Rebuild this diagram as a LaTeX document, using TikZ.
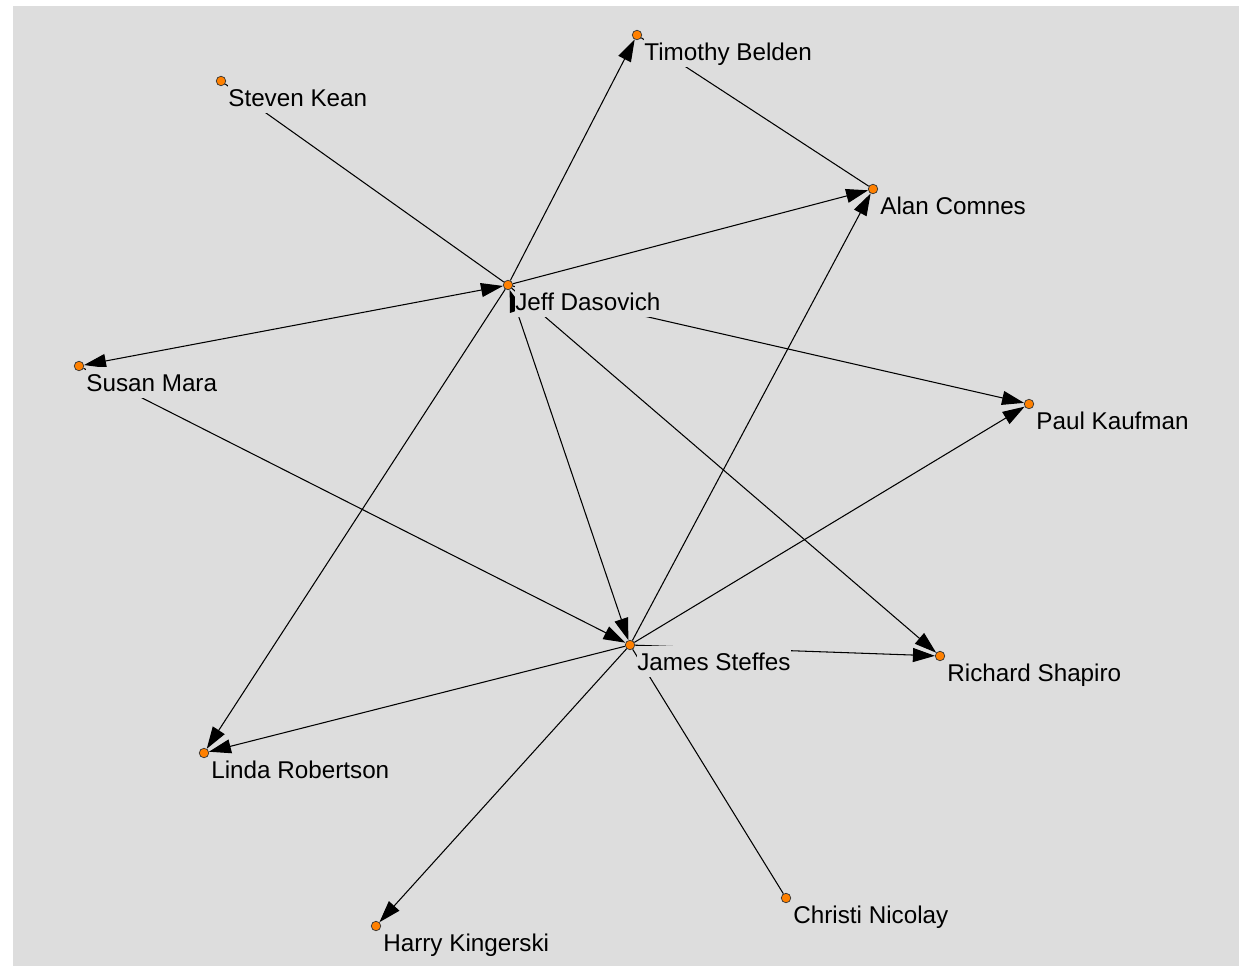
\documentclass[tikz,border=0pt]{standalone}
\usepackage{fontspec}
\setmainfont{Liberation Sans}
\usetikzlibrary{arrows.meta, positioning}
\definecolor{panelgray}{RGB}{221, 221, 221}
\definecolor{dotorange}{RGB}{255, 128, 0}

\begin{document}
\begin{tikzpicture}[
  x=0.02cm, y=-0.02cm,
  person/.style={circle, draw=black!80, fill=dotorange, line width=0.4pt,
                 minimum size=0.19cm, inner sep=0pt},
  namebox/.style={fill=panelgray, inner sep=0pt, text height=0.49cm,
                  text depth=0.13cm, font=\fontsize{13.8}{16}\selectfont},
  link/.style={line width=0.6pt},
  arrow/.style={link, -{Triangle[length=0.44cm, width=0.28cm]}},
  twoway/.style={link, {Triangle[length=0.44cm, width=0.28cm]}-{Triangle[length=0.44cm, width=0.28cm]}}
]
\useasboundingbox (0,0) rectangle (1239,966);
\fill[white] (0,0) rectangle (1239,966);
\fill[panelgray] (13,6) rectangle (1239,966);

% people
\node[person] (timothy) at (637,35)  {};
\node[person] (steven)  at (221,81)  {};
\node[person] (alan)    at (873,189) {};
\node[person] (jeff)    at (508,285) {};
\node[person] (susan)   at (79,366)  {};
\node[person] (paul)    at (1029,404) {};
\node[person] (james)   at (630,645) {};
\node[person] (richard) at (940,656) {};
\node[person] (linda)   at (204,753) {};
\node[person] (christi) at (786,898) {};
\node[person] (harry)   at (376,926) {};

% links
\draw[link] (steven) -- (jeff);
\draw[link] (timothy) -- (alan);
\draw[link] (christi) -- (james);
\draw[arrow] (jeff) -- (timothy);
\draw[arrow] (jeff) -- (alan);
\draw[twoway] (susan) -- (jeff);
\draw[arrow] (jeff) -- (paul);
\draw[twoway] (jeff) -- (james);
\draw[arrow] (jeff) -- (richard);
\draw[arrow] (jeff) -- (linda);
\draw[arrow] (susan) -- (james);
\draw[arrow] (james) -- (alan);
\draw[arrow] (james) -- (paul);
\draw[arrow] (james) -- (richard);
\draw[arrow] (james) -- (linda);
\draw[arrow] (james) -- (harry);

% names
\node[namebox, below right=0.01cm and 0.14cm of timothy.center] (timothy-l) {Timothy Belden};
\node[namebox, below right=0.01cm and 0.14cm of steven.center]  (steven-l)  {Steven Kean};
\node[namebox, below right=0.01cm and 0.14cm of alan.center]    (alan-l)    {Alan Comnes};
\node[namebox, below right=0.01cm and 0.14cm of jeff.center]    (jeff-l)    {Jeff Dasovich};
\node[namebox, below right=0.01cm and 0.14cm of susan.center]   (susan-l)   {Susan Mara};
\node[namebox, below right=0.01cm and 0.14cm of paul.center]    (paul-l)    {Paul Kaufman};
\node[namebox, below right=0.01cm and 0.14cm of james.center]   (james-l)   {James Steffes};
\node[namebox, below right=0.01cm and 0.14cm of richard.center] (richard-l) {Richard Shapiro};
\node[namebox, below right=0.01cm and 0.14cm of linda.center]   (linda-l)   {Linda Robertson};
\node[namebox, below right=0.01cm and 0.14cm of christi.center] (christi-l) {Christi Nicolay};
\node[namebox, below right=0.01cm and 0.14cm of harry.center]   (harry-l)   {Harry Kingerski};

\end{tikzpicture}
\end{document}
